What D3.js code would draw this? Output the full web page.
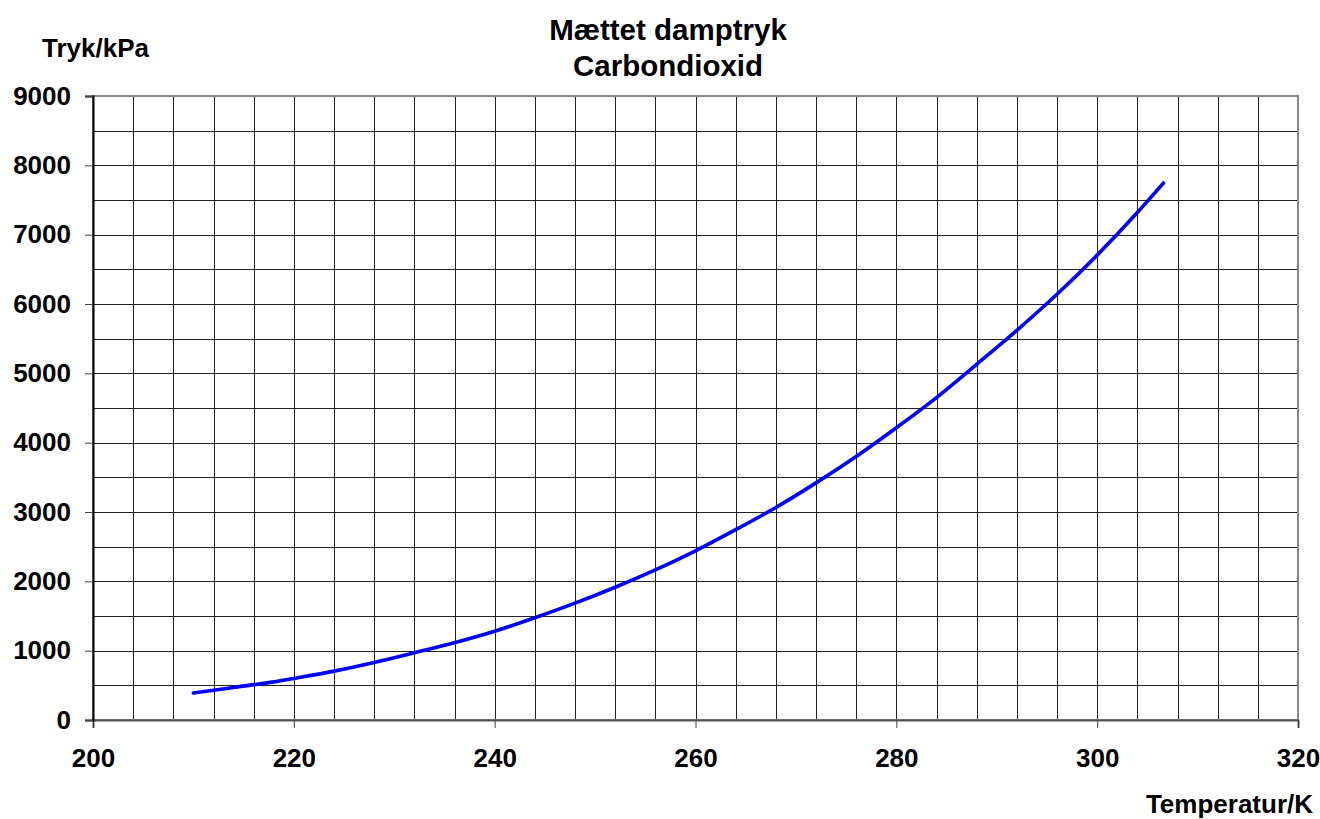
<!DOCTYPE html>
<html lang="da">
<head>
<meta charset="UTF-8">
<title>Mættet damptryk Carbondioxid</title>
<script src="https://d3js.org/d3.v7.min.js"></script>
<style>
    body { margin: 0; background: #fff; }
    svg text { font-family: "Liberation Sans", Arial, sans-serif; font-weight: bold; fill: #000; }
</style>
</head>
<body>
<svg width="1320" height="819"></svg>
<script>
    // temperatur (K) og mættet damptryk (kPa), aflæst fra kurven
    const temps = [210, 214, 218, 220, 224, 228, 232, 236, 240, 244, 248, 252, 256,
                   260, 264, 268, 272, 276, 280, 284, 288, 292, 296, 300, 304, 306.6];
    const pressures = [390, 470, 550, 600, 705, 830, 970, 1115, 1280, 1475, 1685, 1915, 2165,
                       2440, 2745, 3065, 3420, 3800, 4215, 4650, 5130, 5620, 6140, 6705, 7320, 7745];
    const xTicks = [200, 220, 240, 260, 280, 300, 320];
    const yTicks = [0, 1000, 2000, 3000, 4000, 5000, 6000, 7000, 8000, 9000];
    const titleLines = ["Mættet damptryk", "Carbondioxid"];

    const svg = d3.select("svg"),
          margin = { top: 96, right: 22, bottom: 99, left: 93 },
          width = +svg.attr("width") - margin.left - margin.right,
          height = +svg.attr("height") - margin.top - margin.bottom,
          g = svg.append("g").attr("transform", `translate(${margin.left},${margin.top})`);

    const x = d3.scaleLinear().domain([200, 320]).range([0, width]);
    const y = d3.scaleLinear().domain([0, 9000]).range([height, 0]);

    // gitter: hver 4 K og hver 500 kPa
    const grid = g.append("g").attr("stroke", "#222").attr("stroke-width", 1).attr("shape-rendering", "crispEdges");
    grid.selectAll("line.v")
        .data(d3.range(204, 320, 4))
        .enter().append("line")
        .attr("x1", d => Math.round(x(d)) + 0.5).attr("x2", d => Math.round(x(d)) + 0.5)
        .attr("y1", 0).attr("y2", height);
    grid.selectAll("line.h")
        .data(d3.range(500, 9000, 500))
        .enter().append("line")
        .attr("x1", 0).attr("x2", width)
        .attr("y1", d => Math.round(y(d)) + 0.5).attr("y2", d => Math.round(y(d)) + 0.5);

    // ramme
    g.append("rect")
        .attr("width", width).attr("height", height)
        .attr("fill", "none").attr("stroke", "#888").attr("stroke-width", 2);

    const xAxis = g.append("g")
        .attr("transform", `translate(0,${height})`)
        .call(d3.axisBottom(x).tickValues(xTicks).tickFormat(d3.format("d")).tickSize(8).tickPadding(21));
    const yAxis = g.append("g")
        .call(d3.axisLeft(y).tickValues(yTicks).tickFormat(d3.format("d")).tickSize(8).tickPadding(14));
    [xAxis, yAxis].forEach(a => {
        a.attr("font-family", null).attr("font-size", 26);
        a.select(".domain").attr("stroke", "#555").attr("stroke-width", 2);
        a.selectAll(".tick line").attr("stroke", "#444");
    });
    yAxis.select(".domain").attr("stroke", "#000");

    const data = temps.map((t, i) => ({ t: t, p: pressures[i] }));
    g.append("path")
        .datum(data)
        .attr("fill", "none")
        .attr("stroke", "#0000ff")
        .attr("stroke-width", 3.6)
        .attr("stroke-linecap", "round")
        .attr("d", d3.line().x(d => x(d.t)).y(d => y(d.p)).curve(d3.curveMonotoneX));

    // titel
    svg.selectAll("text.title")
        .data(titleLines)
        .enter().append("text")
        .attr("class", "title")
        .attr("x", 668)
        .attr("y", (d, i) => 40 + i * 36)
        .attr("text-anchor", "middle")
        .attr("font-size", "29.5px")
        .text(d => d);

    svg.append("text")
        .attr("x", 42).attr("y", 57)
        .attr("font-size", "26px")
        .text("Tryk/kPa");

    svg.append("text")
        .attr("x", 1313).attr("y", 813)
        .attr("text-anchor", "end")
        .attr("font-size", "26px")
        .text("Temperatur/K");
</script>
</body>
</html>
